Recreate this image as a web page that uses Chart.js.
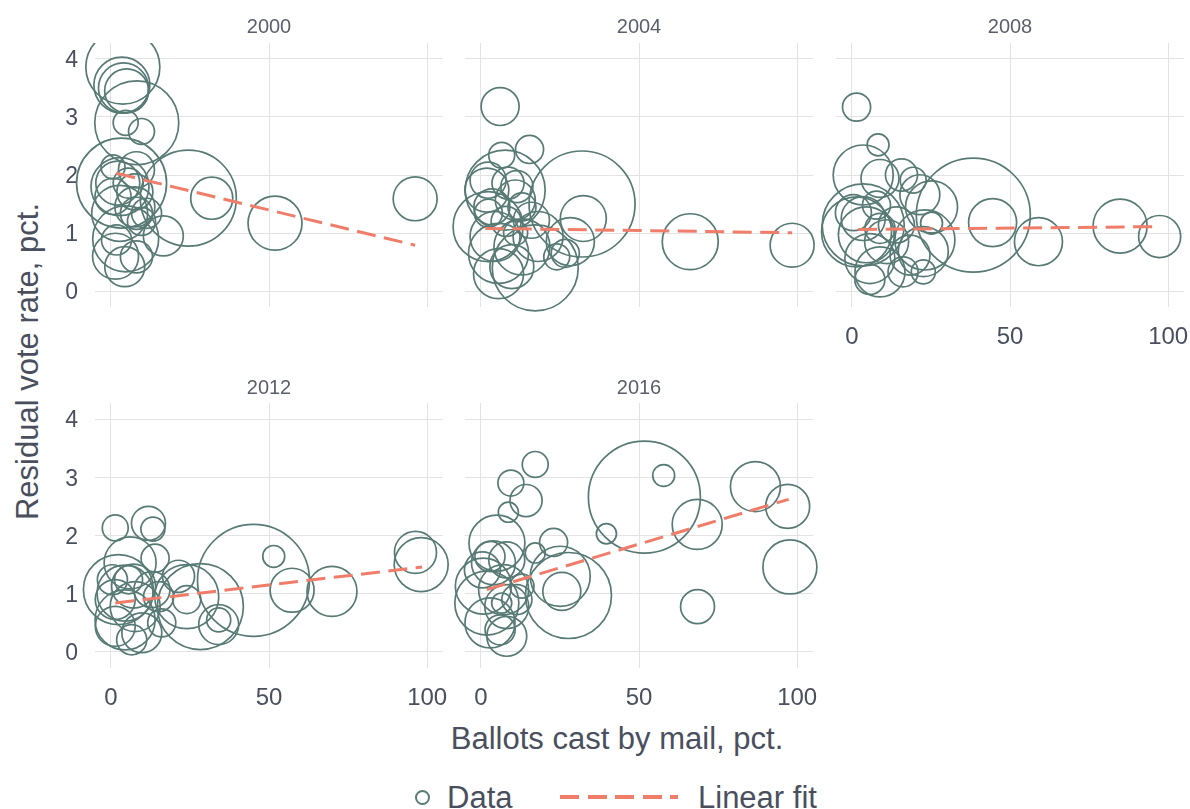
<!DOCTYPE html>
<html>
<head>
<meta charset="utf-8">
<script src="https://cdn.jsdelivr.net/npm/chart.js@4.4.1/dist/chart.umd.min.js"></script>
<style>
  html, body { margin: 0; padding: 0; background: #ffffff; }
  body { position: relative; width: 1190px; height: 809px; overflow: hidden;
         font-family: "Liberation Sans", Arial, sans-serif; color: #4a4f5e; }
  canvas.panel { position: absolute; }
  .ytitle { position: absolute; width: 420px; height: 31px; line-height: 31px; font-size: 31px;
            text-align: center; white-space: nowrap; transform: rotate(-90deg); transform-origin: 50% 50%; }
  .xtitle { position: absolute; width: 500px; height: 31px; line-height: 31px; font-size: 31px;
            text-align: center; white-space: nowrap; }
  .legend { position: absolute; height: 31px; line-height: 31px; font-size: 31px; white-space: nowrap; }
  .legend .dot { position: absolute; width: 11px; height: 11px; border: 2px solid #587a74; border-radius: 50%; }
  .legend .dash { position: absolute; height: 4px;
                  background: repeating-linear-gradient(to right, #f07d69 0 19px, transparent 19px 27.5px); }
  .legend .lab { position: absolute; }
</style>
</head>
<body>
<div class="ytitle" id="ytitle">Residual vote rate, pct.</div>
<div class="xtitle" id="xtitle">Ballots cast by mail, pct.</div>
<div class="legend" id="legend">
  <span class="dot" id="legDot"></span><span class="lab" id="legData">Data</span>
  <span class="dash" id="legDash"></span><span class="lab" id="legFit">Linear fit</span>
</div>
<script>
// Residual vote rate against the share of ballots cast by mail, one bubble per state,
// bubble area proportional to ballots cast (millions).
const years = ['2000', '2004', '2008', '2012', '2016'];

const mail2000    = [3.8, 3.5, 5.0, 4.0, 8.2, 4.7, 9.7, 3.4, 24.5, 31.9, 51.9, 96.2, 2.9, 2.2, 7.6, 11.3, 9.7, 2.8, 16.6, 4.7, 1.5, 8.1, 4.4, 1.8, 7.6, 8.1, 0.7, 5.5, 0.7, 8.1];
const resid2000   = [3.86, 3.55, 3.45, 3.50, 2.90, 2.90, 2.75, 1.86, 1.60, 1.60, 1.17, 1.59, 1.80, 1.86, 1.71, 1.34, 1.20, 1.34, 0.95, 0.90, 0.60, 0.59, 0.42, 0.88, 1.45, 2.09, 2.14, 1.86, 1.63, 1.34];
const ballots2000 = [5.70, 3.26, 2.01, 2.60, 7.34, 0.65, 0.70, 8.43, 9.59, 1.84, 3.03, 2.01, 3.50, 2.01, 1.35, 0.94, 0.82, 3.26, 1.66, 4.53, 2.20, 1.07, 1.66, 0.94, 1.66, 1.35, 0.60, 0.94, 1.35, 1.07];

const mail2004    = [6.1, 6.6, 15.4, 32.0, 32.4, 28.3, 24.0, 66.2, 98.4, 17.2, 7.7, 2.3, 1.9, 8.6, 10.9, 3.5, 4.5, 5.6, 13.0, 18.1, 5.6, 9.8, 26.7, 16.0, 2.4, 13.0, 8.0, 11.0, 2.3, 11.4];
const resid2004   = [3.18, 2.34, 2.44, 1.50, 1.25, 0.85, 0.59, 0.85, 0.79, 0.40, 1.74, 1.11, 1.74, 1.86, 1.57, 1.45, 0.94, 0.65, 0.76, 0.94, 0.30, 0.42, 0.65, 1.22, 1.34, 1.45, 1.20, 1.00, 1.91, 1.80];
const ballots2004 = [1.50, 0.70, 0.82, 11.69, 2.20, 2.40, 0.70, 3.26, 2.01, 7.70, 6.66, 5.10, 2.01, 1.07, 1.66, 1.35, 2.60, 3.75, 3.26, 2.60, 2.60, 2.01, 0.82, 1.35, 0.82, 0.82, 0.94, 0.60, 1.35, 1.07];

const mail2008    = [1.5, 8.3, 38.4, 44.5, 59.0, 84.8, 97.3, 25.2, 23.1, 25.2, 3.6, 8.9, 19.4, 15.7, 3.6, 1.5, 4.6, 3.6, 5.7, 8.9, 11.0, 14.1, 8.9, 5.7, 18.4, 16.2, 22.6, 22.6, 0.5, 7.8, 21.5];
const resid2008   = [3.17, 2.52, 1.31, 1.18, 0.85, 1.12, 0.94, 1.17, 0.88, 1.45, 2.00, 1.94, 1.91, 2.00, 1.14, 1.02, 0.97, 1.25, 0.56, 0.33, 0.85, 1.14, 1.08, 0.20, 0.62, 0.33, 0.33, 0.68, 1.35, 1.48, 1.66];
const ballots2008 = [0.82, 0.50, 13.52, 2.40, 2.40, 3.03, 1.84, 0.50, 3.75, 2.81, 3.75, 1.50, 0.70, 1.07, 7.00, 5.10, 3.26, 2.01, 2.60, 2.60, 2.01, 1.35, 0.94, 0.94, 1.66, 0.94, 0.60, 2.60, 1.35, 0.82, 1.66];

const mail2012    = [1.4, 11.9, 13.3, 45.1, 51.5, 57.3, 69.9, 96.3, 98.1, 34.1, 34.1, 24.0, 24.0, 28.3, 6.1, 14.0, 2.4, 4.5, 7.2, 1.4, 7.7, 13.0, 15.1, 4.5, 9.8, 6.6, 1.4, 21.4, 16.1, 0.5, 5.6];
const resid2012   = [2.13, 2.21, 2.11, 1.23, 1.64, 1.06, 1.04, 1.71, 1.50, 0.55, 0.47, 0.90, 0.95, 0.78, 1.53, 1.61, 1.07, 1.01, 1.13, 0.90, 0.78, 1.07, 0.95, 0.55, 0.33, 0.21, 0.44, 1.30, 0.50, 1.24, 1.24];
const ballots2012 = [0.70, 1.20, 0.60, 13.05, 0.50, 2.01, 2.60, 1.84, 3.03, 0.60, 1.66, 0.82, 4.26, 7.70, 2.81, 0.82, 5.10, 3.26, 2.01, 1.66, 2.60, 1.35, 0.94, 3.75, 1.66, 0.94, 1.66, 1.07, 0.82, 0.94, 0.82];

const mail2016    = [51.7, 57.8, 39.7, 68.4, 86.8, 97.0, 97.7, 68.5, 17.2, 9.5, 14.3, 8.7, 23.0, 27.7, 25.6, 25.1, 17.2, 5.1, 4.0, 2.9, 8.2, 0.8, 1.9, 7.2, 8.2, 11.4, 2.9, 8.2, 6.1, 13.0, 6.6, 0.5];
const resid2016   = [2.66, 3.03, 2.03, 2.19, 2.84, 2.50, 1.46, 0.78, 3.22, 2.90, 2.60, 2.40, 1.88, 0.97, 1.04, 1.30, 1.70, 1.87, 1.53, 1.64, 1.58, 1.13, 0.84, 1.07, 0.78, 0.90, 0.50, 0.27, 0.38, 1.13, 0.84, 1.41];
const ballots2016 = [13.05, 0.50, 0.42, 2.60, 2.60, 2.01, 3.03, 1.20, 0.70, 0.70, 1.07, 0.42, 0.82, 7.70, 1.50, 3.75, 0.42, 3.26, 2.01, 0.94, 1.35, 3.26, 4.26, 2.60, 2.01, 0.94, 2.60, 1.66, 0.94, 0.60, 0.42, 1.35];

// Linear fit per election: intercept, slope and the span of mail share it covers
const fitIntercept = [2.054, 1.081, 1.059, 0.831, 1.040];
const fitSlope     = [-0.01314, -0.00077, 0.00053, 0.00639, 0.01625];
const fitFrom      = [1.8, 1.4, 2.0, 1.4, 1.9];
const fitTo        = [96.2, 98.4, 96.9, 98.4, 97.3];

const xTicks = [0, 50, 100];
const yTicks = [0, 1, 2, 3, 4];

const mailByYear    = [mail2000, mail2004, mail2008, mail2012, mail2016];
const residByYear   = [resid2000, resid2004, resid2008, resid2012, resid2016];
const ballotsByYear = [ballots2000, ballots2004, ballots2008, ballots2012, ballots2016];

// ---------- drawing ----------
const FONT = '"Liberation Sans", Arial, sans-serif';
const TEXT = '#4a4f5e';
const GRID = '#e3e3e3';
const BUBBLE = '#587a74';
const FIT = '#f07d69';
const bubbleScale = 15.5;           // px of radius per sqrt(million ballots)

Chart.defaults.font.family = FONT;

// facet grid: plot-area rectangle of each panel
const frames = [
  { left: 95,  top: 43,  width: 348, height: 264, showX: false, showY: true  },
  { left: 465, top: 43,  width: 348, height: 264, showX: false, showY: false },
  { left: 836, top: 43,  width: 348, height: 264, showX: true,  showY: false },
  { left: 95,  top: 403, width: 348, height: 265, showX: true,  showY: true  },
  { left: 465, top: 403, width: 348, height: 265, showX: true,  showY: false }
];
const M = { l: 75, r: 20, t: 40, b: 52 };   // room around each plot area
const TITLE_SIZE = 20;
const TITLE_CENTER = [27, 27, 27, 388, 388];

frames.forEach((f, i) => {
  const canvas = document.createElement('canvas');
  canvas.className = 'panel';
  canvas.width = f.width + M.l + M.r;
  canvas.height = f.height + M.t + M.b;
  canvas.style.left = (f.left - M.l) + 'px';
  canvas.style.top = (f.top - M.t) + 'px';
  document.body.appendChild(canvas);

  const lh = TITLE_SIZE * 1.2;
  const padTop = TITLE_CENTER[i] - (f.top - M.t) - lh / 2;
  const padBottom = M.t - lh - padTop;

  const xs = mailByYear[i], ys = residByYear[i], bs = ballotsByYear[i];
  const points = xs.map((x, k) => ({ x: x, y: ys[k], r: bubbleScale * Math.sqrt(bs[k]) }));
  const fitLine = [fitFrom[i], fitTo[i]].map(x => ({ x: x, y: fitIntercept[i] + fitSlope[i] * x }));

  new Chart(canvas, {
    type: 'bubble',
    data: {
      datasets: [
        {
          type: 'line', label: 'Linear fit', data: fitLine, order: 0,
          borderColor: FIT, borderWidth: 3, borderDash: [19, 8.5], borderCapStyle: 'butt',
          pointRadius: 0, fill: false, clip: false
        },
        {
          type: 'bubble', label: 'Data', data: points, order: 1,
          backgroundColor: 'rgba(0,0,0,0)', borderColor: BUBBLE, borderWidth: 1.7,
          hoverRadius: 0, clip: { left: false, top: 0, right: false, bottom: false }
        }
      ]
    },
    options: {
      responsive: false, animation: false, devicePixelRatio: 1, events: [],
      layout: { autoPadding: false, padding: { left: 0, right: M.r, top: 0, bottom: 0 } },
      plugins: {
        legend: { display: false },
        tooltip: { enabled: false },
        title: {
          display: true, text: years[i], fullSize: false, color: '#5b5f69',
          font: { family: FONT, size: TITLE_SIZE, weight: 'normal', lineHeight: 1.2 },
          padding: { top: padTop, bottom: padBottom }
        }
      },
      scales: {
        x: {
          type: 'linear', min: -5, max: 105,
          afterBuildTicks: s => { s.ticks = xTicks.map(v => ({ value: v })); },
          afterFit: s => { s.height = M.b; s.paddingLeft = 0; s.paddingRight = 0; },
          grid: { color: GRID, lineWidth: 1, drawTicks: false },
          border: { display: false },
          ticks: { display: f.showX, padding: 16, color: TEXT, font: { family: FONT, size: 24 } }
        },
        y: {
          type: 'linear', min: -0.275, max: 4.275,
          afterBuildTicks: s => { s.ticks = yTicks.map(v => ({ value: v })); },
          afterFit: s => { s.width = M.l; s.paddingTop = 0; s.paddingBottom = 0; },
          grid: { color: GRID, lineWidth: 1, drawTicks: false },
          border: { display: false },
          ticks: { display: f.showY, padding: 17, labelOffset: 2, color: TEXT, font: { family: FONT, size: 23 } }
        }
      }
    }
  });
});

// shared axis titles
const yt = document.getElementById('ytitle');
yt.style.left = (26.6 - 210) + 'px';
yt.style.top = (361 - 15.5) + 'px';
const xt = document.getElementById('xtitle');
xt.style.left = (617 - 250) + 'px';
xt.style.top = '723px';

// legend
const lg = document.getElementById('legend');
lg.style.left = '0px'; lg.style.top = '782px'; lg.style.width = '1190px';
const dot = document.getElementById('legDot');
dot.style.left = (422 - 7.5) + 'px'; dot.style.top = (15 - 7.5) + 'px';
const ld = document.getElementById('legData');
ld.style.left = '447px'; ld.style.top = '0px';
const dash = document.getElementById('legDash');
dash.style.left = '560px'; dash.style.top = '13px'; dash.style.width = '118px';
const lf = document.getElementById('legFit');
lf.style.left = '698px'; lf.style.top = '0px';
</script>
</body>
</html>
